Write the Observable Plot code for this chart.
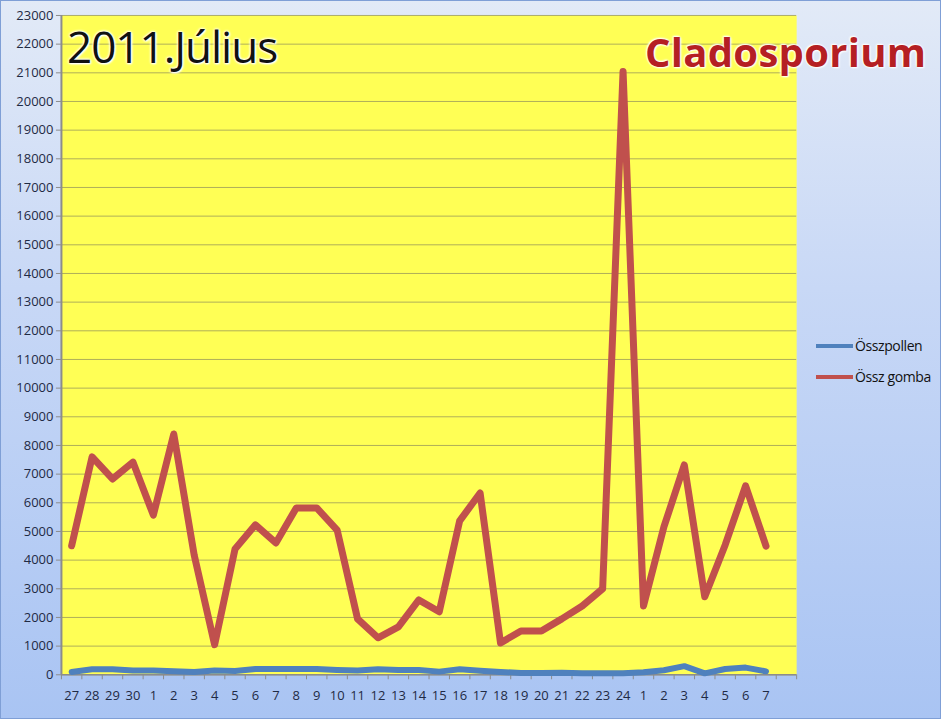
<!DOCTYPE html>
<html>
<head>
<meta charset="utf-8">
<script src="https://cdn.jsdelivr.net/npm/d3@7"></script>
<script src="https://cdn.jsdelivr.net/npm/@observablehq/plot@0.6"></script>
<style>
  html, body { margin: 0; padding: 0; }
  #wrap {
    position: relative; width: 941px; height: 719px; box-sizing: border-box;
    border: 1px solid #7f9fd6;
    background: linear-gradient(to bottom, #e2eaf7 0%, #c8d8f6 40%, #a9c4f3 100%);
    font-family: "Open Sans", "Noto Sans", sans-serif; overflow: hidden;
  }
  #chart { position: absolute; left: -1px; top: -1px; }
  .title {
    position: absolute; left: 66px; top: 15px; font-family: "Open Sans", sans-serif;
    font-size: 44px; font-weight: 400; color: #111; letter-spacing: -1px; white-space: nowrap;
    text-shadow: 0 0 3px #fff, 0 0 3px #fff, 0 0 2px #fff, 1px 1px 2px #fff;
  }
  .brand {
    position: absolute; left: 644px; top: 23px; font-family: "Open Sans", sans-serif;
    font-weight: 700; font-size: 40px; color: #b51f23; letter-spacing: 0.3px; white-space: nowrap;
    text-shadow: 0 0 2px #fff, 0 0 2px #fff, 1px 1px 2px #fff, -1px -1px 2px #fff;
  }
  .legend { position: absolute; left: 815px; top: 329px; font-size: 14px; letter-spacing: -0.4px; color: #111; white-space: nowrap; }
  .legend .item { display: flex; align-items: center; height: 31px; }
  .legend .sw { width: 37px; height: 4px; margin-right: 2px; flex: none; }
</style>
</head>
<body>
<div id="wrap">
  <div id="chart"></div>
  <div class="title">2011.Július</div>
  <div class="brand">Cladosporium</div>
  <div class="legend" id="legend"></div>
</div>
<script>
// Category tick labels (days, 27 June – 7 August); last slot is empty
const dayLabels = ["27","28","29","30","1","2","3","4","5","6","7","8","9","10","11","12","13","14","15","16","17","18","19","20","21","22","23","24","1","2","3","4","5","6","7",""];
// Series names
const seriesNames = ["Összpollen", "Össz gomba"];
const seriesColors = ["#4f81bd", "#c0504d"];
// Összpollen values
const osszpollen = [100,190,190,150,150,120,100,150,130,200,200,200,200,170,150,190,170,170,110,190,140,100,60,60,70,50,50,50,90,160,300,50,200,250,120];
// Össz gomba values
const osszGomba = [4500,7600,6830,7420,5570,8400,4180,1050,4390,5230,4600,5820,5820,5050,1950,1290,1670,2610,2200,5370,6340,1110,1530,1530,1950,2400,3000,21050,2400,5160,7320,2720,4530,6590,4490];
const yTicks = d3.range(0, 23001, 1000);

const rows = [];
osszpollen.forEach((v, i) => rows.push({i, v, s: seriesNames[0]}));
osszGomba.forEach((v, i) => rows.push({i, v, s: seriesNames[1]}));

const idx = d3.range(dayLabels.length);
const edges = d3.range(dayLabels.length + 1).map(k => k - 0.5);

const plot = Plot.plot({
  width: 941, height: 719,
  marginLeft: 61, marginRight: 144, marginTop: 15, marginBottom: 44,
  style: {background: "transparent", fontFamily: "'Open Sans', 'Noto Sans', sans-serif", fontSize: "13px", color: "#1f2a44"},
  x: {type: "linear", domain: [-0.5, dayLabels.length - 0.5], axis: null, label: null},
  y: {domain: [0, 23000], axis: null, label: null},
  color: {domain: seriesNames, range: seriesColors},
  marks: [
    Plot.frame({fill: "#ffff55", stroke: null}),
    Plot.ruleY(yTicks, {stroke: "#9c9a5a", strokeWidth: 1, strokeOpacity: 0.8}),
    Plot.ruleX([-0.5], {stroke: "#8c8c8c", strokeWidth: 2}),
    Plot.ruleY([0], {stroke: "#8c8c8c", strokeWidth: 1.5}),
    Plot.axisY({ticks: yTicks, tickSize: 5, tickPadding: 3, stroke: "#8c8c8c", tickFormat: d => String(d), fontSize: 13, fill: "#1f2a44", label: null}),
    Plot.axisX({ticks: idx, tickSize: 0, tickPadding: 16, tickFormat: i => dayLabels[i], fontSize: 13, fill: "#1f2a44", label: null}),
    Plot.axisX({ticks: edges, tickSize: 5, tickFormat: () => "", stroke: "#8c8c8c", label: null}),
    Plot.line(rows, {x: "i", y: "v", z: "s", stroke: "s", strokeWidth: d => d.s === seriesNames[1] ? 7 : 6, strokeLinejoin: "round", strokeLinecap: "round"})
  ]
});
document.getElementById("chart").appendChild(plot);

const leg = document.getElementById("legend");
seriesNames.forEach((n, k) => {
  const it = document.createElement("div");
  it.className = "item";
  it.innerHTML = `<span class="sw" style="background:${seriesColors[k]}"></span><span>${n}</span>`;
  leg.appendChild(it);
});
</script>
</body>
</html>
